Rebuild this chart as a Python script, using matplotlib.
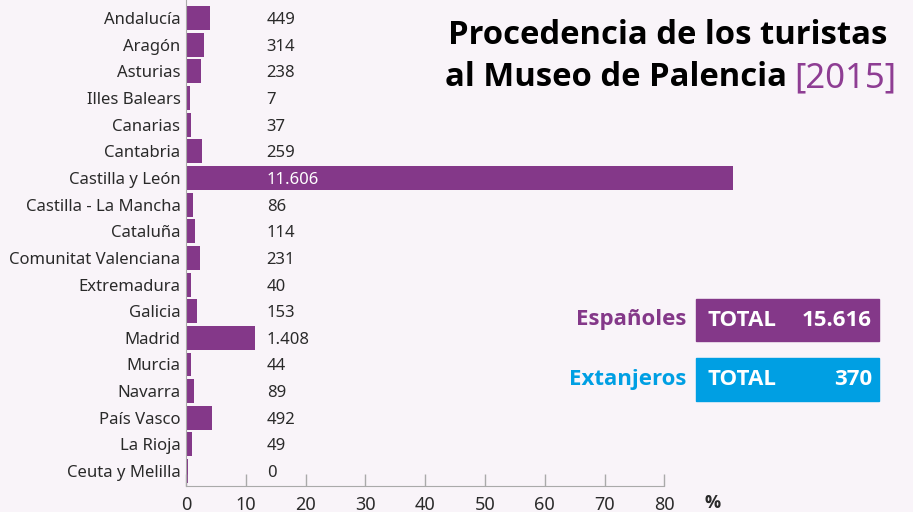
import matplotlib.pyplot as plt
from matplotlib.patches import Rectangle

# datos
regiones = ['Andalucía', 'Aragón', 'Asturias', 'Illes Balears', 'Canarias', 'Cantabria',
            'Castilla y León', 'Castilla - La Mancha', 'Cataluña', 'Comunitat Valenciana',
            'Extremadura', 'Galicia', 'Madrid', 'Murcia', 'Navarra', 'País Vasco',
            'La Rioja', 'Ceuta y Melilla']
turistas = [449, 314, 238, 7, 37, 259, 11606, 86, 114, 231, 40, 153, 1408, 44, 89, 492, 49, 0]
# longitud de barra (%) tal como aparece dibujada
porcentaje = [4.0, 3.0, 2.5, 0.6, 0.8, 2.7, 91.5, 1.1, 1.5, 2.3, 0.8, 1.8, 11.5, 0.8, 1.3, 4.3, 1.0, 0.3]
xticks = [0, 10, 20, 30, 40, 50, 60, 70, 80]
total_esp = 15616
total_ext = 370

morado = '#843889'
azul = '#009FE3'
fondo = '#F9F4F9'
texto = '#2a2a2a'
negrita = ['Open Sans', 'DejaVu Sans']

plt.rcParams['font.family'] = ['Noto Sans', 'DejaVu Sans']

W, H = 913, 512
fig = plt.figure(figsize=(W / 100, H / 100), dpi=100, facecolor=fondo)

def fx(px):
    return px / W

def fy(py):
    return 1 - py / H

# ejes: x=0 en 186px, 5.98 px por unidad
ax = fig.add_axes([fx(186), fy(486), fx(W - 186), 486 / H])
ax.set_facecolor(fondo)
y = list(range(len(regiones)))
ax.barh(y, porcentaje, height=0.9, color=morado)
ax.set_xlim(0, (W - 186) / 5.98)
ax.set_ylim(17.56, -0.68)

for i, n in enumerate(turistas):
    etiqueta = f'{n:,}'.replace(',', '.')
    col = 'white' if porcentaje[i] > 20 else texto
    ax.text(13.5, i, etiqueta, va='center_baseline', ha='left', fontsize=12, color=col)

ax.set_yticks(y)
ax.set_yticklabels(regiones, fontsize=12, color=texto, va='center_baseline')
ax.tick_params(axis='y', length=0, pad=4)
ax.set_xticks(xticks)
ax.set_xticklabels([str(t) for t in xticks], fontsize=13, color=texto)
ax.tick_params(axis='x', direction='in', length=9, width=1, color='#aaaaaa', pad=7)

for s in ['top', 'right']:
    ax.spines[s].set_visible(False)
ax.spines['bottom'].set_bounds(0, 80)
ax.spines['bottom'].set_color('#aaaaaa')
ax.spines['left'].set_color('#aaaaaa')

fig.text(fx(713), fy(503), '%', fontsize=13, fontweight='bold', family=negrita,
         color=texto, ha='center', va='center')

# titulo
fig.text(fx(668), fy(35), 'Procedencia de los turistas', fontsize=23.6, fontweight='bold',
         family=negrita, color='black', ha='center', va='center')
anio = fig.text(fx(896), fy(78), '[2015]', fontsize=25, color='#8e3d93',
                ha='right', va='center')
fig.canvas.draw()
bb = anio.get_window_extent()
fig.text(bb.x0 / W - fx(7), fy(78), 'al Museo de Palencia', fontsize=23.6, fontweight='bold',
         family=negrita, color='black', ha='right', va='center')

# recuadros de totales
cajas = [('Españoles', total_esp, morado, 299, 341), ('Extanjeros', total_ext, azul, 358, 401)]
for nombre, total, col, y0, y1 in cajas:
    fig.patches.append(Rectangle((fx(696), fy(y1)), fx(879 - 696), (y1 - y0) / H,
                                 transform=fig.transFigure, color=col))
    yc = fy((y0 + y1) / 2)
    fig.text(fx(707), yc, 'TOTAL', fontsize=16, fontweight='bold', family=negrita,
             color='white', ha='left', va='center')
    fig.text(fx(872), yc, f'{total:,}'.replace(',', '.'), fontsize=16, fontweight='bold',
             family=negrita, color='white', ha='right', va='center')
    fig.text(fx(686), yc, nombre, fontsize=16, fontweight='bold', family=negrita,
             color=col, ha='right', va='center')

fig.savefig('out.png', dpi=100, facecolor=fondo)
